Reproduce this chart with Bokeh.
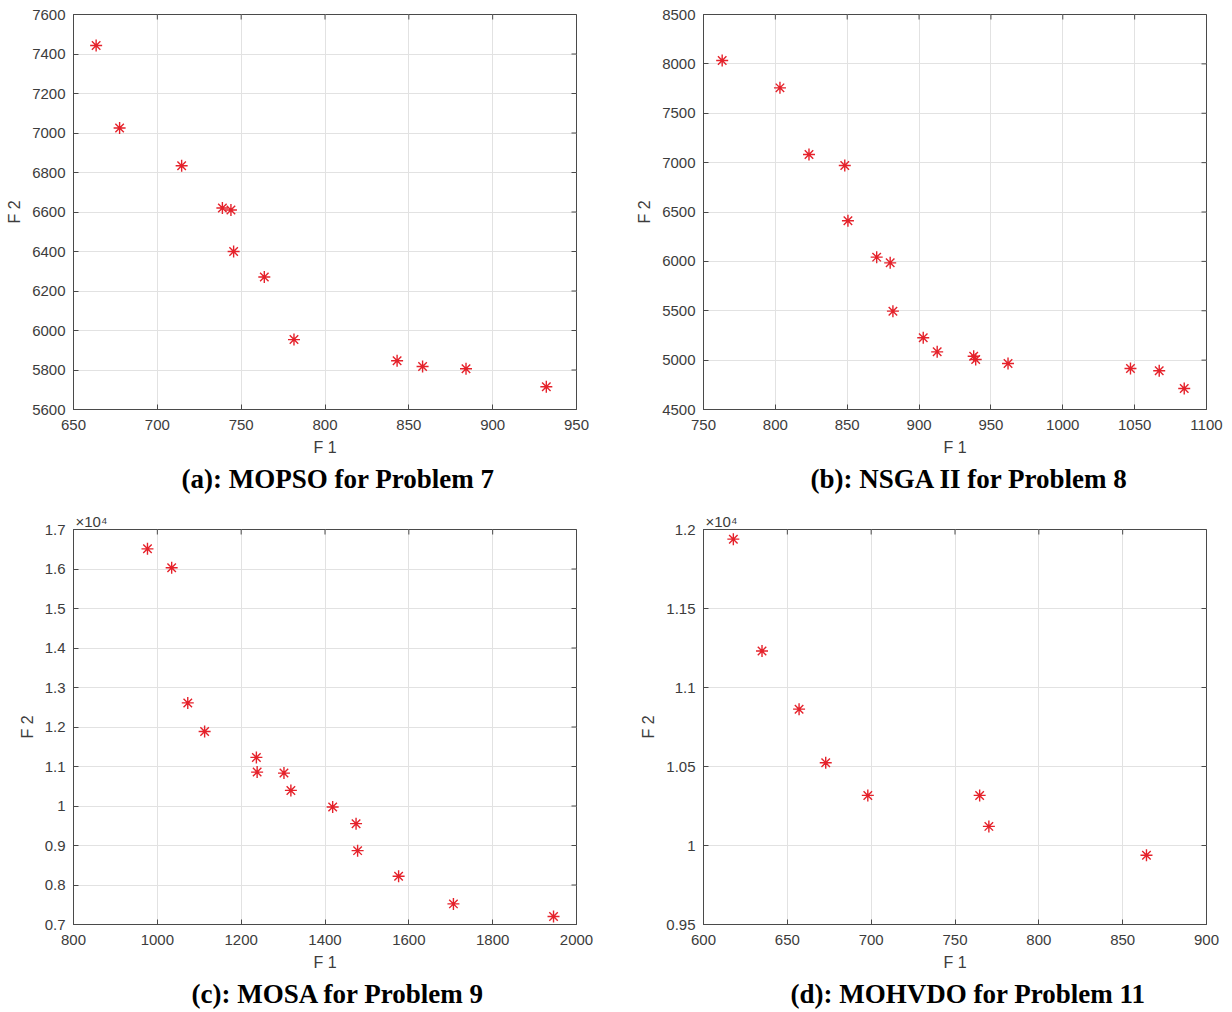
import math
from bokeh.plotting import figure
from bokeh.layouts import column, row
from bokeh.models import Range1d, FixedTicker, CustomJSTickFormatter, Title
from bokeh.embed import file_html
from bokeh.resources import INLINE

# (a) MOPSO for Problem 7
a_f1 = [663.5, 677.5, 714.5, 738.8, 743.9, 745.5, 763.8, 781.5, 843.0, 858.2, 884.1, 932.0]
a_f2 = [7443, 7025, 6834, 6620, 6610, 6400, 6271, 5954, 5847, 5818, 5806, 5715]
a_xticks = [650, 700, 750, 800, 850, 900, 950]
a_yticks = [5600, 5800, 6000, 6200, 6400, 6600, 6800, 7000, 7200, 7400, 7600]

# (b) NSGA II for Problem 8
b_f1 = [763.0, 803.2, 823.4, 848.3, 850.5, 870.5, 879.9, 881.8, 902.9, 912.6, 938.0, 939.4, 961.9, 1047.1, 1067.1, 1084.5]
b_f2 = [8034, 7757, 7082, 6971, 6411, 6043, 5985, 5496, 5226, 5084, 5040, 5006, 4966, 4915, 4892, 4713]
b_xticks = [750, 800, 850, 900, 950, 1000, 1050, 1100]
b_yticks = [4500, 5000, 5500, 6000, 6500, 7000, 7500, 8000, 8500]

# (c) MOSA for Problem 9
c_f1 = [976.5, 1034.2, 1072.6, 1112.8, 1236.3, 1238.1, 1302.1, 1318.6, 1418.3, 1474.1, 1477.8, 1575.6, 1706.4, 1945.2]
c_f2 = [16510, 16030, 12610, 11886, 11230, 10858, 10833, 10395, 9974, 9553, 8870, 8222, 7522, 7202]
c_xticks = [800, 1000, 1200, 1400, 1600, 1800, 2000]
c_yticks = [7000, 8000, 9000, 10000, 11000, 12000, 13000, 14000, 15000, 16000, 17000]

# (d) MOHVDO for Problem 11
d_f1 = [617.8, 634.9, 657.0, 672.9, 698.0, 764.7, 770.2, 864.2]
d_f2 = [11939, 11231, 10863, 10524, 10317, 10317, 10121, 9938]
d_xticks = [600, 650, 700, 750, 800, 850, 900]
d_yticks = [9500, 10000, 10500, 11000, 11500, 12000]

captions = ["(a): MOPSO for Problem 7", "(b): NSGA II for Problem 8",
            "(c): MOSA for Problem 9", "(d): MOHVDO for Problem 11"]
exponent_label = "×10⁴"

TICK_COL = "#3c3c3c"
AXIS_COL = "#4a4a4a"
GRID_COL = "#e2e2e2"
MARK_COL = "#e5222b"


def panel(f1, f2, xticks, yticks, caption, cap_offset, width, height, bl, br, bt, bb, scaled=False):
    p = figure(width=width, height=height, title=None, toolbar_location=None,
               output_backend="svg",
               x_range=Range1d(xticks[0], xticks[-1]),
               y_range=Range1d(yticks[0], yticks[-1]),
               min_border_left=bl, min_border_right=br,
               min_border_top=bt, min_border_bottom=bb,
               x_axis_label="F 1", y_axis_label="F 2")
    p.background_fill_color = "white"
    p.border_fill_color = "white"
    p.outline_line_color = AXIS_COL
    p.outline_line_width = 1
    p.xaxis.ticker = FixedTicker(ticks=xticks)
    p.yaxis.ticker = FixedTicker(ticks=yticks)
    if scaled:
        p.yaxis.formatter = CustomJSTickFormatter(code="return String(tick / 10000);")
    for ax in (p.xaxis[0], p.yaxis[0]):
        ax.major_tick_in = 5
        ax.major_tick_out = 0
        ax.minor_tick_line_color = None
        ax.axis_line_color = AXIS_COL
        ax.major_tick_line_color = AXIS_COL
        ax.major_label_text_font = "Liberation Sans"
        ax.major_label_text_font_size = "15px"
        ax.major_label_text_color = TICK_COL
        ax.axis_label_text_font = "Liberation Sans"
        ax.axis_label_text_font_size = "16px"
        ax.axis_label_text_font_style = "normal"
        ax.axis_label_text_color = TICK_COL
    p.xaxis.major_label_standoff = 10
    p.xaxis.axis_label_standoff = 6
    p.yaxis.major_label_standoff = 8
    p.yaxis.axis_label_standoff = 6
    p.xgrid.ticker = FixedTicker(ticks=xticks)
    p.ygrid.ticker = FixedTicker(ticks=yticks)
    p.grid.grid_line_color = GRID_COL
    p.grid.grid_line_width = 1
    # inward box ticks on the right and top edges (clipped to the frame)
    p.scatter([xticks[-1]] * len(yticks), yticks, marker="dash", size=10,
              line_color=AXIS_COL, line_width=1)
    p.scatter(xticks, [yticks[-1]] * len(xticks), marker="dash", angle=math.pi / 2,
              size=10, line_color=AXIS_COL, line_width=1)
    p.scatter(f1, f2, marker="asterisk", size=12, line_color=MARK_COL, line_width=1.4)
    if scaled:
        p.add_layout(Title(text=exponent_label, align="left", offset=2, standoff=0,
                           text_font="Liberation Sans", text_font_size="15px",
                           text_font_style="normal", text_color=TICK_COL), "above")
    t = Title(text=caption, align="left", offset=cap_offset, text_font="Liberation Serif",
              text_font_size="27px", text_font_style="bold", text_color="black",
              standoff=6)
    p.add_layout(t, "below")
    return p


pa = panel(a_f1, a_f2, a_xticks, a_yticks, captions[0], 108, 630, 503, 73, 54, 14, 94)
pb = panel(b_f1, b_f2, b_xticks, b_yticks, captions[1], 107, 600, 503, 73, 24, 14, 94)
pc = panel(c_f1, c_f2, c_xticks, c_yticks, captions[2], 118, 630, 508, 73, 54, 26, 87, scaled=True)
pd = panel(d_f1, d_f2, d_xticks, d_yticks, captions[3], 87, 600, 508, 73, 24, 26, 87, scaled=True)

layout = column(row(pa, pb), row(pc, pd))
open("out.html", "w").write(file_html(layout, INLINE))
